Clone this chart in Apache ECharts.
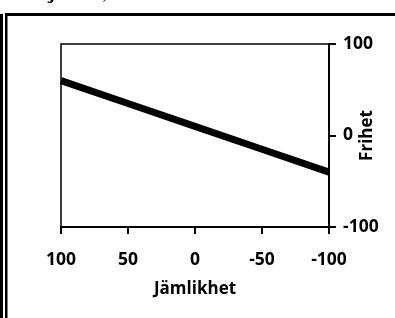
<!DOCTYPE html>
<html>
<head>
<meta charset="utf-8">
<script src="https://cdn.jsdelivr.net/npm/echarts@6/dist/echarts.min.js"></script>
<style>
  html, body { margin: 0; padding: 0; background: #fff; }
  #chart { width: 395px; height: 318px; }
</style>
</head>
<body>
<div id="chart"></div>
<script>
// Jämlikhet (x) vs Frihet (y), straight line
const jamlikhet = [100, 50, 0, -50, -100]
const frihet = [60, 35, 10, -15, -40]
const xTicks = [100, 50, 0, -50, -100]
const yTicks = [100, 0, -100]

const FONT = '"Open Sans", sans-serif'
const chart = echarts.init(document.getElementById('chart'))

const axisLabel = {
  color: '#000',
  fontFamily: FONT,
  fontWeight: 'bold',
  fontSize: 17.5
}

chart.setOption({
  animation: false,
  backgroundColor: '#fff',
  grid: {
    left: 61, top: 44, right: 66, bottom: 91,
    outerBoundsMode: 'none',
    containLabel: false,
    show: true, borderColor: '#000', borderWidth: 1.5,
    backgroundColor: 'transparent'
  },
  xAxis: {
    type: 'value',
    inverse: true,
    min: xTicks[xTicks.length - 1],
    max: xTicks[0],
    interval: 50,
    name: 'Jämlikhet',
    nameLocation: 'middle',
    nameGap: 54,
    nameMoveOverlap: false,
    nameTextStyle: { color: '#000', fontFamily: FONT, fontWeight: 'bold', fontSize: 17 },
    axisLine: { show: true, onZero: false, lineStyle: { color: '#000', width: 2 } },
    axisTick: { show: true, inside: false, length: 7, lineStyle: { color: '#000', width: 2 } },
    axisLabel: Object.assign({ margin: 24 }, axisLabel),
    splitLine: { show: false }
  },
  yAxis: {
    type: 'value',
    position: 'right',
    min: yTicks[yTicks.length - 1],
    max: yTicks[0],
    interval: 100,
    name: 'Frihet',
    nameLocation: 'middle',
    nameRotate: 90,
    nameGap: 30,
    nameMoveOverlap: false,
    nameTextStyle: { color: '#000', fontFamily: FONT, fontWeight: 'bold', fontSize: 17 },
    axisLine: { show: true, onZero: false, lineStyle: { color: '#000', width: 2 } },
    axisTick: { show: true, inside: false, length: 7, lineStyle: { color: '#000', width: 2 } },
    axisLabel: Object.assign({ margin: 14 }, axisLabel),
    splitLine: { show: false }
  },
  series: [{
    type: 'line',
    data: jamlikhet.map((x, i) => [x, frihet[i]]),
    symbol: 'none',
    lineStyle: { color: '#000', width: 7 }
  }],
  graphic: [
    // outer frame of the page
    { type: 'rect', shape: { x: 0, y: 14, width: 3, height: 304 }, style: { fill: '#000' } },
    { type: 'rect', shape: { x: 5, y: 13, width: 2.5, height: 305 }, style: { fill: '#000' } },
    { type: 'rect', shape: { x: 5, y: 13, width: 390, height: 3 }, style: { fill: '#000' } },
    // cropped caption above
    { type: 'text', left: 50, top: -11, style: { text: 'j', fill: '#000', font: 'italic bold 15px "DejaVu Serif"' } },
    { type: 'text', left: 103, top: -11, style: { text: ')', fill: '#000', font: 'italic 15px "DejaVu Serif"' } }
  ]
})
</script>
</body>
</html>
